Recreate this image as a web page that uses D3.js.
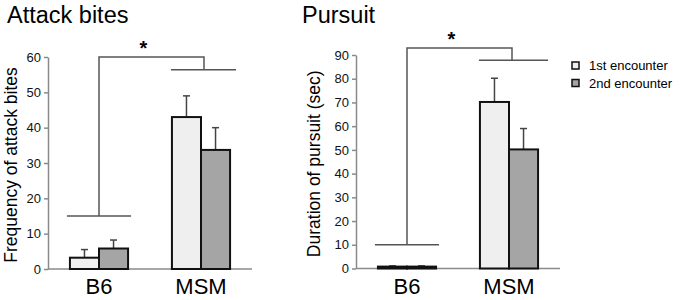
<!DOCTYPE html>
<html>
<head>
<meta charset="utf-8">
<script src="https://cdn.jsdelivr.net/npm/d3@7"></script>
<style>
  body { margin: 0; background: #fff; }
  svg { display: block; font-family: 'Liberation Sans', Arial, sans-serif; }
</style>
</head>
<body>
<svg width="680" height="300"></svg>
<script>
const groups = ['B6', 'MSM'];
const series = ['1st encounter', '2nd encounter'];

// attack bites: mean and SEM
const attack1 = [3.2, 43];
const attack1Err = [2.3, 6];
const attack2 = [5.8, 33.7];
const attack2Err = [2.4, 6.3];
const attackTicks = [0, 10, 20, 30, 40, 50, 60];

// pursuit duration (sec)
const pursuit1 = [0.8, 70.2];
const pursuit1Err = [0.3, 10];
const pursuit2 = [0.8, 50.2];
const pursuit2Err = [0.3, 8.8];
const pursuitTicks = [0, 10, 20, 30, 40, 50, 60, 70, 80, 90];

const colors = ['#efefef', '#a5a5a5'];
const svg = d3.select('svg');

const drawPanel = opts => {
  const g = svg.append('g');

  const x = d3.scaleBand()
    .domain(groups)
    .range(opts.xRange)
    .paddingInner(0.43)
    .paddingOuter(0.215);
  const x1 = d3.scaleBand()
    .domain(series)
    .range([0, x.bandwidth()]);
  const y = d3.scaleLinear()
    .domain([0, d3.max(opts.ticks)])
    .range(opts.yRange);

  g.append('text')
    .attr('x', opts.titleX).attr('y', 23)
    .attr('font-size', 23.5)
    .text(opts.title);

  g.append('text')
    .attr('transform', `translate(${opts.labelX}, ${(opts.yRange[0] + opts.yRange[1]) / 2 + 2}) rotate(-90)`)
    .attr('text-anchor', 'middle')
    .attr('font-size', 17.5)
    .text(opts.yLabel);

  // y axis
  const yAxis = g.append('g')
    .attr('transform', `translate(${opts.xRange[0]}, 0)`)
    .call(d3.axisLeft(y).tickValues(opts.ticks).tickSize(4).tickPadding(3).tickSizeOuter(0));
  yAxis.selectAll('path, line').attr('stroke', '#8a8a8a').attr('stroke-width', 1.5);
  yAxis.selectAll('text').attr('font-size', 13).attr('fill', '#111').attr('font-family', null);

  // x axis baseline + category labels
  g.append('line')
    .attr('x1', opts.xRange[0]).attr('x2', opts.xRange[1])
    .attr('y1', y(0)).attr('y2', y(0))
    .attr('stroke', '#8a8a8a').attr('stroke-width', 1.5);
  g.selectAll('.cat').data(groups).join('text')
    .attr('x', d => x(d) + x.bandwidth() / 2)
    .attr('y', 294)
    .attr('text-anchor', 'middle')
    .attr('font-size', 22)
    .text(d => d);

  const rows = [];
  opts.values.forEach((vals, si) => {
    vals.forEach((v, gi) => rows.push({
      group: groups[gi], s: series[si], si, v, err: opts.errs[si][gi]
    }));
  });

  // error bars (upper only)
  const eb = g.selectAll('.err').data(rows).join('g');
  eb.append('line')
    .attr('x1', d => x(d.group) + x1(d.s) + x1.bandwidth() / 2)
    .attr('x2', d => x(d.group) + x1(d.s) + x1.bandwidth() / 2)
    .attr('y1', d => y(d.v)).attr('y2', d => y(d.v + d.err))
    .attr('stroke', '#444').attr('stroke-width', 1.5);
  eb.append('line')
    .attr('x1', d => x(d.group) + x1(d.s) + x1.bandwidth() / 2 - 3.5)
    .attr('x2', d => x(d.group) + x1(d.s) + x1.bandwidth() / 2 + 3.5)
    .attr('y1', d => y(d.v + d.err)).attr('y2', d => y(d.v + d.err))
    .attr('stroke', '#444').attr('stroke-width', 1.5);

  g.selectAll('.bar').data(rows).join('rect')
    .attr('x', d => x(d.group) + x1(d.s))
    .attr('y', d => y(d.v))
    .attr('width', x1.bandwidth())
    .attr('height', d => y(0) - y(d.v))
    .attr('fill', d => colors[d.si])
    .attr('stroke', '#111')
    .attr('stroke-width', 2);

  // significance bracket
  const b = opts.bracket;
  const cB6 = x('B6') + x.bandwidth() / 2;
  const cMSM = x('MSM') + x.bandwidth() / 2 + 3;
  const path = d3.path();
  path.moveTo(x('B6') - 3, y(b.low)); path.lineTo(x('B6') + x.bandwidth() + 3, y(b.low));
  path.moveTo(cB6, y(b.low)); path.lineTo(cB6, y(b.top));
  path.lineTo(cMSM, y(b.top)); path.lineTo(cMSM, y(b.msm));
  path.moveTo(x('MSM') - 1, y(b.msm)); path.lineTo(x('MSM') + x.bandwidth() + opts.msmExtra, y(b.msm));
  g.append('path')
    .attr('d', path.toString())
    .attr('fill', 'none')
    .attr('stroke', '#555')
    .attr('stroke-width', 1.5);
  g.append('text')
    .attr('x', (cB6 + cMSM) / 2 - 8)
    .attr('y', y(b.top) - 2)
    .attr('text-anchor', 'middle')
    .attr('font-size', 20)
    .attr('font-weight', 'bold')
    .text('*');

  return {x, y};
};

drawPanel({
  title: 'Attack bites', titleX: 7,
  yLabel: 'Frequency of attack bites', labelX: 17,
  xRange: [48, 252], yRange: [269, 57],
  ticks: attackTicks,
  values: [attack1, attack2], errs: [attack1Err, attack2Err],
  bracket: {low: 15, top: 60, msm: 56.4},
  msmExtra: 6
});

drawPanel({
  title: 'Pursuit', titleX: 302,
  yLabel: 'Duration of pursuit (sec)', labelX: 320,
  xRange: [356, 560], yRange: [268.5, 55],
  ticks: pursuitTicks,
  values: [pursuit1, pursuit2], errs: [pursuit1Err, pursuit2Err],
  bracket: {low: 10, top: 93, msm: 87.8},
  msmExtra: 10
});

// legend
const legend = svg.append('g').attr('transform', 'translate(572, 62)');
series.forEach((s, i) => {
  const row = legend.append('g').attr('transform', `translate(0, ${i * 17.5})`);
  row.append('rect')
    .attr('width', 7).attr('height', 7)
    .attr('fill', colors[i]).attr('stroke', '#111').attr('stroke-width', 1.5);
  row.append('text')
    .attr('x', 17).attr('y', 8)
    .attr('font-size', 13)
    .text(s);
});
</script>
</body>
</html>
